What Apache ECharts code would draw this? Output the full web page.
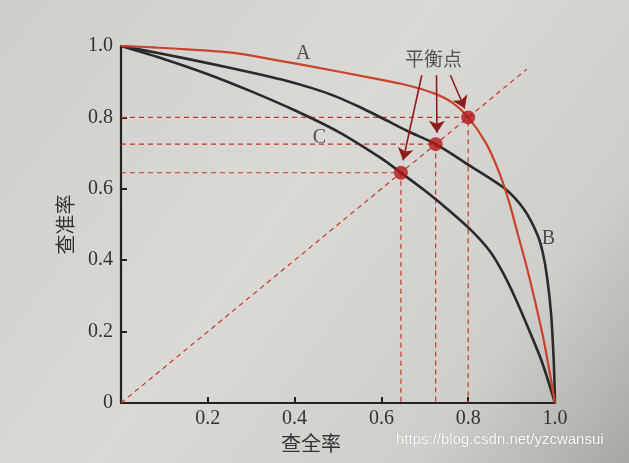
<!DOCTYPE html>
<html><head><meta charset="utf-8">
<script src="https://cdn.jsdelivr.net/npm/echarts@6/dist/echarts.min.js"></script>
<style>html,body{margin:0;padding:0;background:#d6d4d0;}#c{width:629px;height:463px;}</style>
</head><body><div id="c"></div>
<script>
// ---- data ----
const xTicks = [0.2, 0.4, 0.6, 0.8, 1.0];
const yTicks = [0, 0.2, 0.4, 0.6, 0.8, 1.0];
const curveA = [[0,1],[0.12,0.993],[0.25,0.982],[0.35,0.962],[0.45,0.94],[0.55,0.917],[0.65,0.893],[0.72,0.868],[0.765,0.84],[0.8,0.8],[0.84,0.73],[0.87,0.65],[0.895,0.56],[0.915,0.47],[0.935,0.38],[0.955,0.28],[0.975,0.17],[1,0]];
const curveB = [[0,1],[0.1,0.977],[0.2,0.952],[0.3,0.926],[0.37,0.906],[0.44,0.882],[0.49,0.861],[0.55,0.829],[0.6,0.799],[0.66,0.762],[0.725,0.725],[0.806,0.663],[0.885,0.6],[0.93,0.54],[0.96,0.47],[0.972,0.42],[0.982,0.35],[0.991,0.25],[0.997,0.12],[1,0]];
const curveC = [[0,1],[0.1,0.963],[0.2,0.921],[0.3,0.873],[0.4,0.82],[0.5,0.76],[0.6,0.685],[0.645,0.645],[0.7,0.595],[0.76,0.535],[0.81,0.48],[0.85,0.425],[0.88,0.365],[0.91,0.29],[0.94,0.205],[0.97,0.115],[1,0]];
const breakEven = [0.645, 0.725, 0.8];
const diagonal = [[0,0],[0.935,0.935]];
const curveNames = ['A','B','C'];
const curveLabelPos = [[0.42,0.979],[0.985,0.46],[0.457,0.743]];
const calloutText = '平衡点';
const calloutPos = [0.72,0.965];
const arrowFrom = [[0.693,0.918],[0.727,0.918],[0.759,0.918]];
const arrowTo = [[0.65,0.68],[0.728,0.757],[0.792,0.825]];
const xName = '查全率';
const yName = '查准率';
const watermark = 'https://blog.csdn.net/yzcwansui';

// ---- styles ----
const RED = '#c8432a', BLACK = '#2a2a2a', DASH = '#c23a2a', DOT = '#b3181a', ARROW = '#8e1c1c';
const serifNum = {fontFamily:'Liberation Serif', fontSize:20, color:'#333'};

const guideSeries = breakEven.map(v => ({
  type:'line', data:[[0,v],[v,v],[v,0]], symbol:'none', z:1, silent:true,
  lineStyle:{color:DASH, width:1.2, type:[5,4]}
}));

const option = {
  animation:false,
  backgroundColor:{type:'linear', x:0, y:0, x2:1, y2:1, colorStops:[
    {offset:0,color:'#d0ceca'},{offset:0.45,color:'#dbd9d5'},{offset:0.78,color:'#d0ceca'},{offset:1,color:'#a9a7a3'}]},
  grid:{left:121, right:74, top:46, bottom:60, containLabel:false},
  xAxis:{type:'value', min:0, max:1, interval:0.2,
    axisLine:{lineStyle:{color:'#222', width:2.2}},
    axisTick:{inside:true, length:6, lineStyle:{color:'#222', width:2}},
    splitLine:{show:false},
    axisLabel:Object.assign({margin:6, formatter:v => xTicks.some(t=>Math.abs(t-v)<1e-9) ? v.toFixed(1) : ''}, serifNum),
    name:xName, nameLocation:'middle', nameGap:27,
    nameTextStyle:{fontFamily:'Noto Sans CJK SC', fontSize:20, color:'#333', padding:[0,54,0,0]}
  },
  yAxis:{type:'value', min:0, max:1, interval:0.2,
    axisLine:{lineStyle:{color:'#222', width:2.2}},
    axisTick:{inside:true, length:6, lineStyle:{color:'#222', width:2}},
    splitLine:{show:false},
    axisLabel:Object.assign({margin:8, formatter:v => {const t = yTicks.find(t=>Math.abs(t-v)<1e-9); return t===undefined?'':(t===0?'0':t.toFixed(1));}}, serifNum),
    name:yName, nameLocation:'middle', nameGap:46, nameRotate:90,
    nameTextStyle:{fontFamily:'Noto Sans CJK SC', fontSize:20, color:'#333'}
  },
  series:[
    {type:'line', data:diagonal, symbol:'none', z:1, silent:true, lineStyle:{color:DASH, width:1.2, type:[5,4]}},
    ...guideSeries,
    {type:'line', data:curveC, symbol:'none', smooth:0.3, z:3, lineStyle:{color:BLACK, width:2.6}},
    {type:'line', data:curveB, symbol:'none', smooth:0.3, z:3, lineStyle:{color:BLACK, width:2.6}},
    {type:'line', data:curveA, symbol:'none', smooth:0.3, z:4, lineStyle:{color:RED, width:2.2}},
    {type:'scatter', data:breakEven.map(v=>[v,v]), symbolSize:14, z:6, itemStyle:{color:DOT}},
    {type:'line', data:[], z:8, silent:true,
      markLine:{silent:true, symbol:['none','arrow'], symbolSize:12, label:{show:false}, z:8,
        itemStyle:{color:ARROW},
        lineStyle:{color:ARROW, width:1.6, type:'solid'},
        data:arrowFrom.map((f,i)=>[{coord:f},{coord:arrowTo[i]}])}},
    {type:'scatter', data:curveNames.map((n,i)=>({name:n, value:curveLabelPos[i]})), symbolSize:1, z:7,
      itemStyle:{color:'rgba(0,0,0,0)'},
      label:{show:true, position:'inside', formatter:'{b}', fontFamily:'Liberation Serif', fontSize:20, color:'#2a2a2a'}},
    {type:'scatter', data:[{name:calloutText, value:calloutPos}], symbolSize:1, z:7,
      itemStyle:{color:'rgba(0,0,0,0)'},
      label:{show:true, position:'inside', formatter:'{b}', fontFamily:'Noto Sans CJK SC', fontSize:19, color:'#333'}}
  ],
  graphic:[{type:'text', left:396, top:432, silent:true,
    style:{text:watermark, fill:'#ffffff', font:'15px "Liberation Sans"', textShadowColor:'rgba(0,0,0,0.35)', textShadowBlur:1}}]
};
const chart = echarts.init(document.getElementById('c'), null, {renderer:'canvas'});
chart.setOption(option);
</script></body></html>
